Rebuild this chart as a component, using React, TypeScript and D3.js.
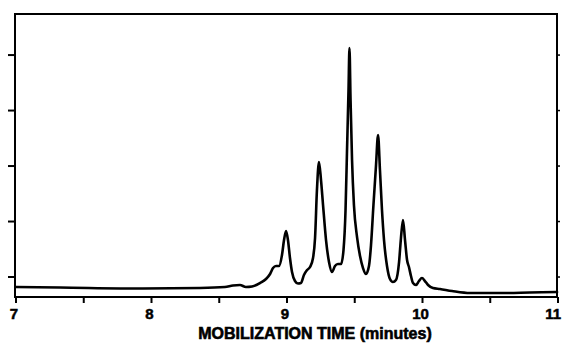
import React from "react";
import * as d3 from "d3";

// Electropherogram trace: mobilization time (minutes) vs detector signal (arbitrary units)
const times: number[] = [
  7.0, 7.325, 7.937, 8.358, 8.542, 8.601, 8.653, 8.697, 8.742, 8.801,
  8.845, 8.875, 8.897, 8.919, 8.941, 8.963, 8.978, 8.993, 9.007, 9.022,
  9.037, 9.059, 9.081, 9.103, 9.125, 9.148, 9.17, 9.192, 9.207, 9.221,
  9.236, 9.251, 9.266, 9.288, 9.31, 9.332, 9.354, 9.376, 9.399, 9.417,
  9.432, 9.443, 9.454, 9.461, 9.469, 9.48, 9.494, 9.517, 9.539, 9.561,
  9.583, 9.605, 9.62, 9.638, 9.657, 9.672, 9.686, 9.701, 9.716, 9.738,
  9.76, 9.782, 9.804, 9.827, 9.841, 9.856, 9.871, 9.886, 9.9, 9.915,
  9.93, 9.952, 9.974, 9.996, 10.018, 10.041, 10.077, 10.129, 10.218, 10.351,
  10.572, 10.793, 10.993,
];
const signal: number[] = [
  16.4, 16.22, 15.86, 16.04, 16.4, 16.94, 17.12, 16.4, 16.58, 17.84,
  19.28, 21.08, 23.24, 23.96, 23.96, 27.93, 33.33, 36.58, 33.33, 26.85,
  21.8, 18.56, 17.66, 17.84, 20.72, 22.52, 23.6, 26.85, 34.05, 51.35,
  61.44, 54.95, 45.95, 33.33, 25.41, 21.8, 23.96, 24.68, 24.68, 29.73,
  44.14, 65.77, 87.39, 102.52, 83.78, 62.16, 45.95, 34.41, 27.57, 23.24,
  21.08, 23.96, 31.53, 45.95, 60.36, 71.17, 58.56, 44.14, 33.33, 23.96,
  19.28, 18.2, 18.92, 25.41, 34.05, 40.54, 33.33, 26.13, 23.6, 20.36,
  17.84, 17.12, 18.56, 19.64, 18.56, 17.12, 16.04, 15.68, 14.95, 14.23,
  14.23, 14.41, 14.59,
];

const xTicks: number[] = [7, 7.5, 8, 8.5, 9, 9.5, 10, 10.5, 11];
const xTickLabels: number[] = [7, 8, 9, 10, 11];
const yTicks: number[] = [20, 40, 60, 80, 100];
const xTitle = "MOBILIZATION TIME (minutes)";

export default function App() {
  const W = 562;
  const H = 348;
  const left = 15, right = 557, top = 14, bottom = 297;

  const x = d3.scaleLinear().domain([7, 11]).range([16, 558]);
  const y = d3.scaleLinear().domain([12.8, 114.8]).range([bottom, top]);

  const pts: [number, number][] = times.map((t, i) => [t, signal[i]]);
  const line = d3
    .line<[number, number]>()
    .x((d) => x(d[0]))
    .y((d) => y(d[1]))
    .curve(d3.curveMonotoneX);

  const font = "'Liberation Sans', Arial, Helvetica, sans-serif";

  return (
    <svg
      width={W}
      height={H}
      viewBox={`0 0 ${W} ${H}`}
      style={{ position: "absolute", left: 0, top: 0, background: "#fff" }}
    >
      <rect x={0} y={0} width={W} height={H} fill="#fff" />
      {/* frame */}
      <rect
        x={left}
        y={top}
        width={right - left}
        height={bottom - top}
        fill="none"
        stroke="#000"
        strokeWidth={2}
      />
      {/* left ticks */}
      {yTicks.map((v) => (
        <line key={"yl" + v} x1={8} x2={left} y1={y(v)} y2={y(v)} stroke="#000" strokeWidth={2} />
      ))}
      {/* right ticks */}
      {yTicks.map((v) => (
        <line key={"yr" + v} x1={right} x2={right + 3} y1={y(v)} y2={y(v)} stroke="#000" strokeWidth={1.5} />
      ))}
      {/* bottom ticks */}
      {xTicks.map((t) => (
        <line key={"xt" + t} x1={x(t)} x2={x(t)} y1={bottom} y2={bottom + 6} stroke="#000" strokeWidth={2} />
      ))}
      {xTickLabels.map((t, i) => {
        const last = i === xTickLabels.length - 1;
        return (
          <text
            key={"xl" + t}
            x={last ? W - 1 : x(t) - 2}
            y={319}
            textAnchor={last ? "end" : "middle"}
            fontFamily={font}
            fontWeight={900}
            fontSize={15}
            fill="#000"
            stroke="#000"
            strokeWidth={0.5}
          >
            {t}
          </text>
        );
      })}
      <text
        x={315}
        y={339}
        textAnchor="middle"
        fontFamily={font}
        fontWeight={900}
        fontSize={16}
        fill="#000"
        stroke="#000"
        strokeWidth={0.6}
      >
        {xTitle}
      </text>
      {/* trace */}
      <path
        d={line(pts) || ""}
        fill="none"
        stroke="#000"
        strokeWidth={2.6}
        strokeLinejoin="round"
        strokeLinecap="round"
      />
    </svg>
  );
}
